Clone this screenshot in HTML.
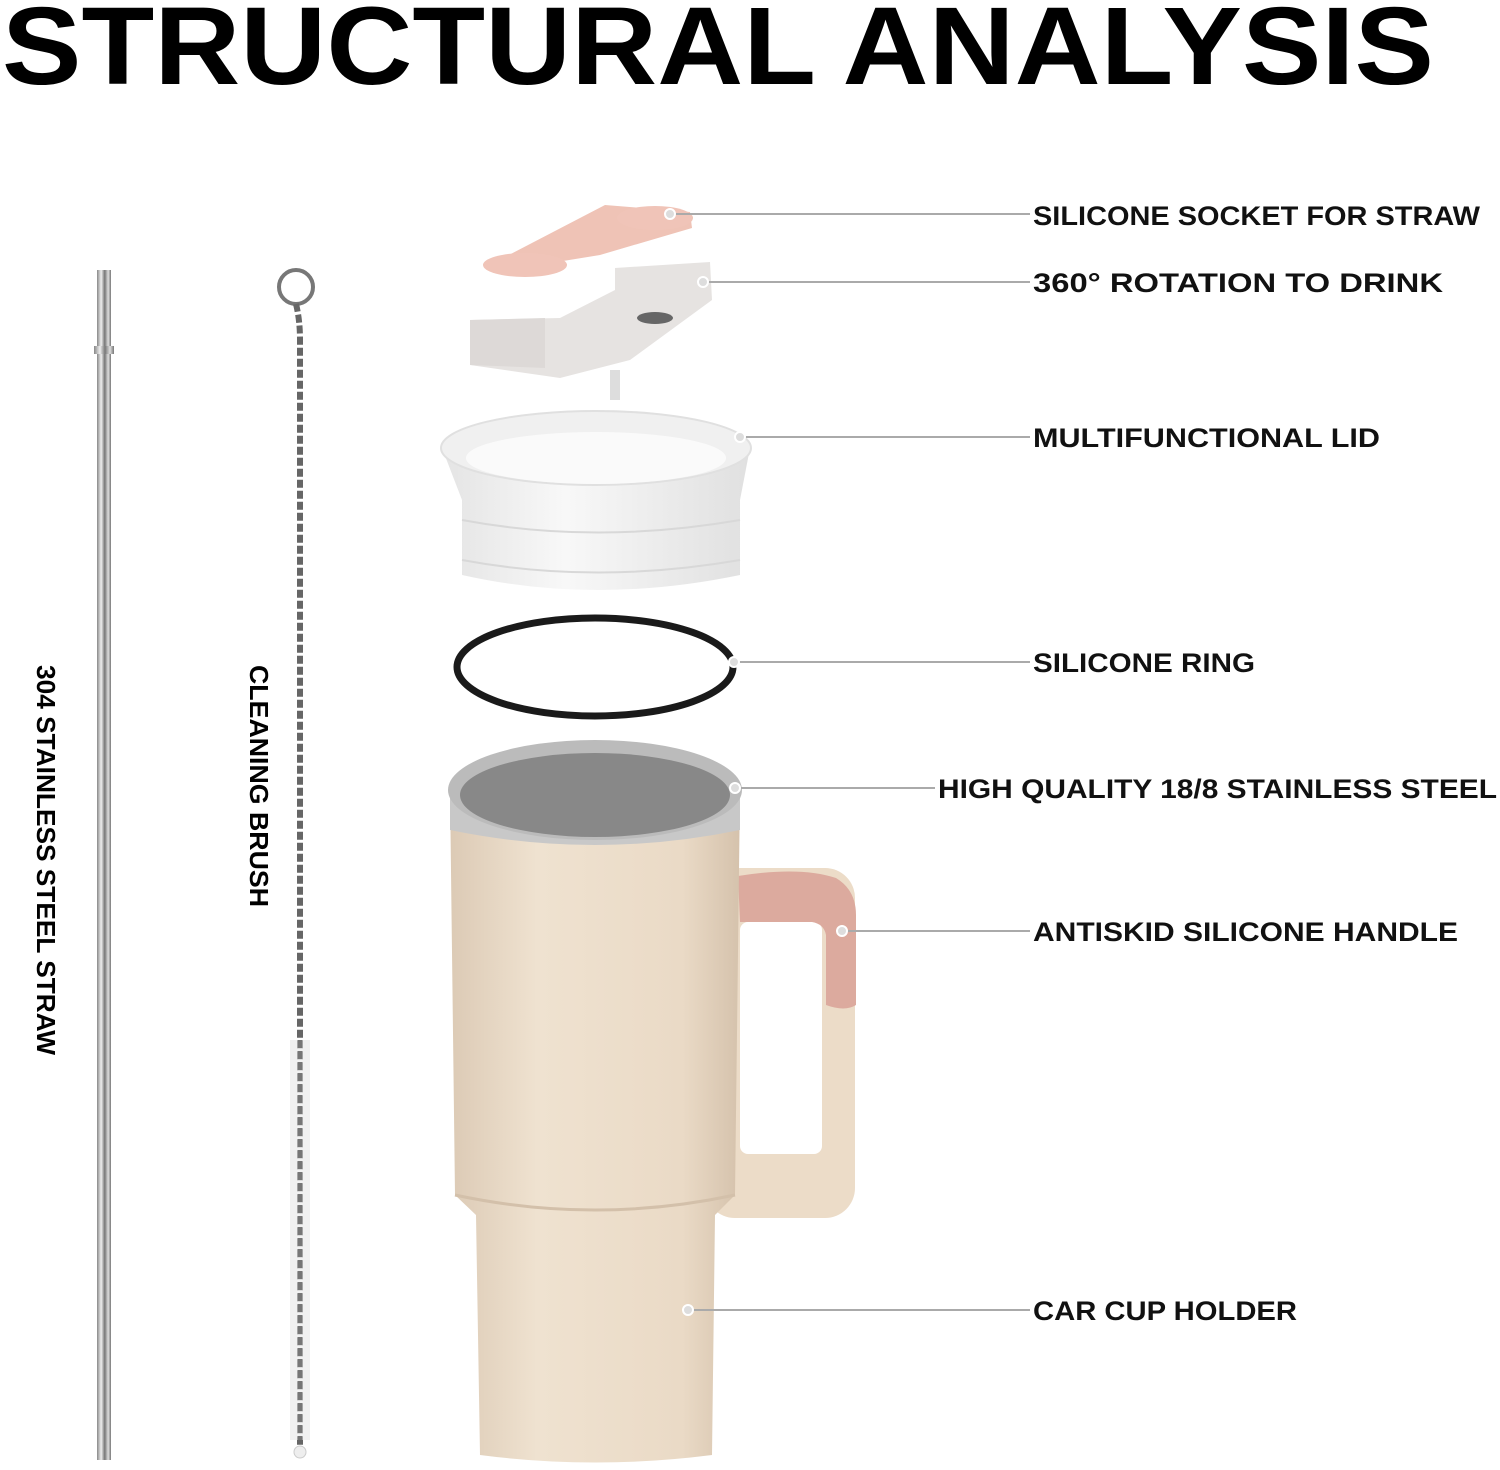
<!DOCTYPE html>
<html><head><style>body{margin:0;background:#fff}svg{display:block}</style></head><body>
<svg width="1500" height="1470" viewBox="0 0 1500 1470" xmlns="http://www.w3.org/2000/svg" font-family="Liberation Sans, sans-serif" font-weight="bold">
<defs>
<linearGradient id="st" x1="0" x2="1"><stop offset="0" stop-color="#888"/><stop offset=".3" stop-color="#eee"/><stop offset=".55" stop-color="#777"/><stop offset=".8" stop-color="#ddd"/><stop offset="1" stop-color="#777"/></linearGradient>
<linearGradient id="cup" x1="0" x2="1"><stop offset="0" stop-color="#dccab5"/><stop offset=".3" stop-color="#efe2d0"/><stop offset=".8" stop-color="#eadac6"/><stop offset="1" stop-color="#d5c2ac"/></linearGradient>
<linearGradient id="lid" x1="0" x2="1"><stop offset="0" stop-color="#e4e4e4"/><stop offset=".4" stop-color="#f8f8f8"/><stop offset="1" stop-color="#e0e0e0"/></linearGradient>
</defs>
<text x="2" y="84" font-size="110" textLength="1432" lengthAdjust="spacingAndGlyphs" fill="#000">STRUCTURAL ANALYSIS</text>
<!-- straw -->
<rect x="97" y="270" width="14" height="1190" fill="url(#st)"/>
<rect x="94" y="346" width="20" height="8" fill="url(#st)"/>
<text transform="translate(37,665) rotate(90)" font-size="26" textLength="390" lengthAdjust="spacingAndGlyphs">304 STAINLESS STEEL STRAW</text>
<!-- brush -->
<circle cx="296" cy="287" r="17" fill="none" stroke="#777" stroke-width="4"/>
<path d="M296 304 Q300 320 300 340 L300 1455" stroke="#666" stroke-width="6" stroke-dasharray="8 3" fill="none"/>
<rect x="290" y="1040" width="20" height="400" fill="#eee" opacity=".8"/>
<path d="M300 1040 L300 1440" stroke="#777" stroke-width="5" stroke-dasharray="8 3"/>
<circle cx="300" cy="1452" r="6" fill="#eee" stroke="#ccc"/>
<text transform="translate(250,665) rotate(90)" font-size="26" textLength="242" lengthAdjust="spacingAndGlyphs">CLEANING BRUSH</text>
<!-- socket -->
<path d="M505 257 L605 205 L690 212 L692 228 L600 255 L520 268 Z" fill="#efc3b6"/>
<ellipse cx="525" cy="265" rx="42" ry="12" fill="#f0c4b8"/>
<ellipse cx="655" cy="218" rx="38" ry="12" fill="#f0c4b8"/>
<!-- rotator -->
<path d="M470 320 L560 318 L615 290 L615 268 L710 262 L712 300 L630 360 L560 378 L470 365 Z" fill="#e6e3e1"/>
<path d="M470 320 L545 318 L545 368 L470 365 Z" fill="#ddd9d7"/>
<ellipse cx="655" cy="318" rx="18" ry="6" fill="#666"/>
<rect x="610" y="370" width="10" height="30" fill="#ddd"/>
<!-- lid -->
<path d="M442 448 L750 448 L740 500 L740 575 Q596 605 462 575 L462 500 Z" fill="url(#lid)"/>
<ellipse cx="596" cy="448" rx="155" ry="37" fill="#f0f0f0" stroke="#e0e0e0" stroke-width="2"/>
<ellipse cx="596" cy="458" rx="130" ry="26" fill="#fafafa"/>
<path d="M462 520 Q596 545 740 520 M462 560 Q596 585 740 560" stroke="#d8d8d8" stroke-width="2" fill="none"/>
<!-- ring -->
<ellipse cx="595" cy="667" rx="138" ry="49" fill="none" stroke="#1a1a1a" stroke-width="7"/>
<!-- handle -->
<rect x="705" y="868" width="150" height="350" rx="30" fill="#ecdcc8"/>
<rect x="740" y="922" width="82" height="232" rx="8" fill="#fff"/>
<path d="M738 876 Q800 866 836 878 Q856 890 856 915 L856 1005 Q845 1012 826 1005 L826 935 Q824 924 812 922 L740 922 Z" fill="#dcaa9e"/>
<!-- cup -->
<path d="M450 790 L740 790 L735 1195 L715 1215 L712 1455 Q595 1470 480 1455 L476 1215 L455 1195 Z" fill="url(#cup)"/>
<path d="M450 790 L740 790 L740 830 Q595 860 450 830 Z" fill="#c8c8c8"/>
<ellipse cx="595" cy="790" rx="147" ry="50" fill="#bbb"/>
<ellipse cx="595" cy="795" rx="135" ry="42" fill="#888"/>
<path d="M455 1195 Q595 1225 735 1195" stroke="#d3c0aa" stroke-width="3" fill="none"/>
<!-- leaders -->
<g stroke="#aaa" stroke-width="2">
<line x1="670" y1="214" x2="1030" y2="214"/><line x1="705" y1="282" x2="1030" y2="282"/>
<line x1="740" y1="437" x2="1030" y2="437"/><line x1="735" y1="662" x2="1030" y2="662"/>
<line x1="735" y1="788" x2="935" y2="788"/><line x1="840" y1="931" x2="1030" y2="931"/>
<line x1="688" y1="1310" x2="1030" y2="1310"/>
</g>
<g fill="#ddd" stroke="#fff" stroke-width="2">
<circle cx="670" cy="214" r="5"/><circle cx="703" cy="282" r="5"/><circle cx="740" cy="437" r="5"/><circle cx="734" cy="662" r="5"/><circle cx="735" cy="788" r="5"/><circle cx="842" cy="931" r="5"/><circle cx="688" cy="1310" r="5"/>
</g>
<g font-size="27" fill="#111">
<text x="1033" y="225" textLength="447" lengthAdjust="spacingAndGlyphs">SILICONE SOCKET FOR STRAW</text>
<text x="1033" y="292" textLength="410" lengthAdjust="spacingAndGlyphs">360° ROTATION TO DRINK</text>
<text x="1033" y="447" textLength="347" lengthAdjust="spacingAndGlyphs">MULTIFUNCTIONAL LID</text>
<text x="1033" y="672" textLength="222" lengthAdjust="spacingAndGlyphs">SILICONE RING</text>
<text x="938" y="798" textLength="559" lengthAdjust="spacingAndGlyphs">HIGH QUALITY 18/8 STAINLESS STEEL</text>
<text x="1033" y="941" textLength="425" lengthAdjust="spacingAndGlyphs">ANTISKID SILICONE HANDLE</text>
<text x="1033" y="1320" textLength="264" lengthAdjust="spacingAndGlyphs">CAR CUP HOLDER</text>
</g>
</svg>
</body></html>
